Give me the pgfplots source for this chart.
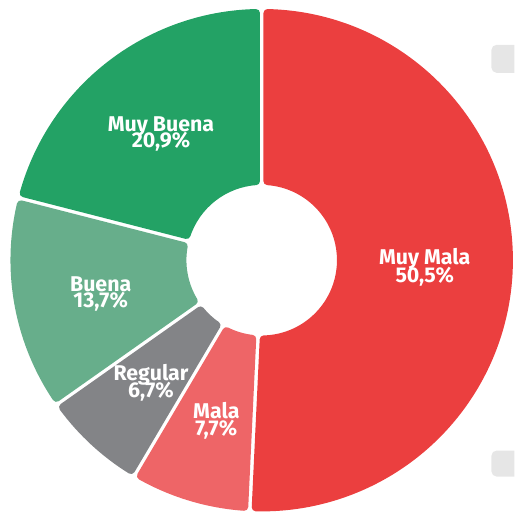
\documentclass[border=0pt]{standalone}
\usepackage{pgfplots}
\pgfplotsset{compat=1.18}
\usepackage{fontspec}
\setmainfont{Fira Sans}
\definecolor{cMM}{HTML}{EB3F3F}
\definecolor{cM}{HTML}{EE6567}
\definecolor{cR}{HTML}{838487}
\definecolor{cB}{HTML}{67AE8B}
\definecolor{cMB}{HTML}{23A265}
\definecolor{cBox}{HTML}{E6E6E6}
\tikzset{lbl/.style={font=\bfseries\fontsize{21.5}{21.5}\selectfont, text=white, anchor=base, inner sep=0pt}}
\begin{document}
\begin{tikzpicture}
% data (percent)
\def\total{99.5}
\pgfmathsetmacro\aA{90}
\pgfmathsetmacro\aB{\aA-50.5/\total*360} % Muy Mala
\pgfmathsetmacro\aC{\aB-7.7/\total*360}  % Mala
\pgfmathsetmacro\aD{\aC-6.7/\total*360}  % Regular
\pgfmathsetmacro\aE{\aD-13.7/\total*360} % Buena
\pgfmathsetmacro\aF{\aE-20.9/\total*360} % Muy Buena
% geometry: outer 252, inner 75.5, corner radius 4, gap 3.5
\def\secRo{248}
\def\secRi{79.5}
\def\secP{5.75}
\newcommand\sector[3]{\filldraw[#3, line width=8bp, line join=round]
 ([shift={({#1-asin(\secP/\secRo)}:\secRo bp)}]O) arc[start angle={#1-asin(\secP/\secRo)}, end angle={#2+asin(\secP/\secRo)}, radius=\secRo bp]
 -- ([shift={({#2+asin(\secP/\secRi)}:\secRi bp)}]O) arc[start angle={#2+asin(\secP/\secRi)}, end angle={#1-asin(\secP/\secRi)}, radius=\secRi bp] -- cycle;}
\begin{axis}[
  x=1bp, y=1bp, xmin=0, xmax=516, ymin=0, ymax=515,
  hide axis, clip=false,
]
\path (rel axis cs:0,0) rectangle (rel axis cs:1,1);
\coordinate (O) at (axis cs:262.5,254);
% background boxes
\fill[cBox] (axis cs:516,470) [rounded corners=5bp] -- (axis cs:493,470) -- (axis cs:493,442) [sharp corners] -- (axis cs:516,442) -- cycle;
\fill[cBox] (axis cs:516,63) [rounded corners=5bp] -- (axis cs:493,63) -- (axis cs:493,37) [sharp corners] -- (axis cs:516,37) -- cycle;
\sector{\aA}{\aB}{cMM}
\sector{\aB}{\aC}{cM}
\sector{\aC}{\aD}{cR}
\sector{\aD}{\aE}{cB}
\sector{\aE}{\aF}{cMB}
\node[lbl] at (axis cs:426,250) {Muy Mala};
\node[lbl] at (axis cs:426,232) {50,5\%};
\node[lbl] at (axis cs:217,95) {Mala};
\node[lbl] at (axis cs:217,78) {7,7\%};
\node[lbl] at (axis cs:151.5,133) {Regular};
\node[lbl] at (axis cs:151.5,116) {6,7\%};
\node[lbl] at (axis cs:101,223) {Buena};
\node[lbl] at (axis cs:101,207) {13,7\%};
\node[lbl] at (axis cs:161.5,383) {Muy Buena};
\node[lbl] at (axis cs:161.5,367) {20,9\%};
\end{axis}
\end{tikzpicture}
\end{document}
